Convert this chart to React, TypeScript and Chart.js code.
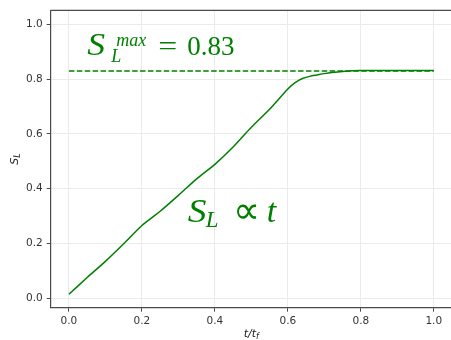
import React, { useEffect, useRef } from "react";
import { Chart, registerables } from "chart.js";

Chart.register(...registerables);

const T_VALUES = [0, 0.05, 0.1, 0.15, 0.2, 0.25, 0.3, 0.35, 0.4, 0.45, 0.5, 0.55, 0.6, 0.62, 0.64, 0.66, 0.68, 0.7, 0.72, 0.75, 0.8, 0.85, 0.9, 0.95, 1.0];
const SL_VALUES = [0.015, 0.076, 0.135, 0.199, 0.266, 0.318, 0.376, 0.436, 0.489, 0.552, 0.624, 0.69, 0.764, 0.787, 0.802, 0.81, 0.815, 0.82, 0.824, 0.828, 0.831, 0.831, 0.831, 0.831, 0.831];
const SL_MAX = 0.83;
const SL_MAX_T = [0, 1];
const X_TICKS = [0, 0.2, 0.4, 0.6, 0.8, 1.0];
const Y_TICKS = [0, 0.2, 0.4, 0.6, 0.8, 1.0];
const ANNOT_MAX_POS = [0.053, 0.887];
const ANNOT_LIN_POS = [0.326, 0.278];

const GREEN = "#008000";

const textPlugin = {
  id: "textPlugin",
  afterDraw(chart: any) {
    const ctx = chart.ctx;
    const { left, right, top, bottom } = chart.chartArea;
    const xs = chart.scales.x;
    const ys = chart.scales.y;
    ctx.save();
    // top & right spines
    ctx.strokeStyle = "#4a4a4a";
    ctx.lineWidth = 1.2;
    ctx.beginPath();
    ctx.moveTo(left, top);
    ctx.lineTo(right, top);
    ctx.lineTo(right, bottom);
    ctx.stroke();

    const serifI = (s: number) => `italic ${s}px "Liberation Serif"`;
    const serif = (s: number) => `${s}px "Liberation Serif"`;

    const wide = (text: string, px: number, py: number, sx: number) => {
      ctx.save();
      ctx.translate(px, py);
      ctx.scale(sx, 1);
      ctx.fillText(text, 0, 0);
      ctx.restore();
    };

    ctx.fillStyle = GREEN;
    ctx.textBaseline = "alphabetic";
    ctx.textAlign = "left";
    // S_L^max = 0.83
    let x = xs.getPixelForValue(ANNOT_MAX_POS[0]);
    let y = ys.getPixelForValue(ANNOT_MAX_POS[1]);
    ctx.font = serifI(31);
    wide("S", x - 1, y, 1.15);
    ctx.font = serifI(18);
    ctx.fillText("max", x + 28, y - 9);
    ctx.fillText("L", x + 23, y + 7);
    ctx.font = serif(27);
    wide("=", x + 70, y, 1.25);
    ctx.fillText("0.83", x + 99, y);

    // S_L ∝ t
    x = xs.getPixelForValue(ANNOT_LIN_POS[0]);
    y = ys.getPixelForValue(ANNOT_LIN_POS[1]);
    ctx.font = serifI(34);
    wide("S", x, y, 1.1);
    ctx.font = serifI(23);
    ctx.fillText("L", x + 18, y + 5);
    ctx.font = serif(38);
    ctx.fillText("\u221D", x + 45, y + 1);
    ctx.font = serifI(34);
    ctx.fillText("t", x + 79, y);

    // axis labels
    ctx.fillStyle = "#222";
    const cx = (left + right) / 2;
    ctx.font = `italic 11px "DejaVu Sans"`;
    const w1 = ctx.measureText("t/t").width;
    ctx.font = `italic 8px "DejaVu Sans"`;
    const w2 = ctx.measureText("f").width;
    const startX = cx - (w1 + w2) / 2;
    ctx.font = `italic 11px "DejaVu Sans"`;
    ctx.fillText("t/t", startX, 337);
    ctx.font = `italic 8px "DejaVu Sans"`;
    ctx.fillText("f", startX + w1, 339);

    // y label S_L
    ctx.translate(18, (top + bottom) / 2);
    ctx.rotate(-Math.PI / 2);
    ctx.font = `italic 11px "DejaVu Sans"`;
    const ws = ctx.measureText("S").width;
    ctx.font = `italic 8px "DejaVu Sans"`;
    const wl = ctx.measureText("L").width;
    const st = -(ws + wl) / 2;
    ctx.font = `italic 11px "DejaVu Sans"`;
    ctx.fillText("S", st, 0);
    ctx.font = `italic 8px "DejaVu Sans"`;
    ctx.fillText("L", st + ws, 2);
    ctx.restore();
  },
};

export default function App() {
  const ref = useRef<HTMLCanvasElement | null>(null);
  useEffect(() => {
    document.body.style.margin = "0";
    const canvas = ref.current!;
    const chart = new Chart(canvas, {
      type: "line",
      data: {
        datasets: [
          {
            data: T_VALUES.map((t, i) => ({ x: t, y: SL_VALUES[i] })),
            borderColor: GREEN,
            borderWidth: 1.5,
            pointRadius: 0,
            tension: 0.25,
            fill: false,
          },
          {
            data: SL_MAX_T.map((t) => ({ x: t, y: SL_MAX })),
            borderColor: GREEN,
            borderWidth: 1.5,
            borderDash: [5.5, 2.4],
            pointRadius: 0,
            fill: false,
          },
        ],
      },
      options: {
        responsive: false,
        animation: false,
        events: [],
        layout: { padding: { top: 8, right: 1, left: 0, bottom: 0 } },
        plugins: { legend: { display: false }, tooltip: { enabled: false } },
        scales: {
          x: {
            type: "linear",
            min: -0.05,
            max: 1.05,
            afterBuildTicks: (s: any) => {
              s.ticks = X_TICKS.map((v) => ({ value: v }));
            },
            afterFit: (s: any) => {
              s.height = 32.3;
            },
            grid: { color: "#ebebeb", lineWidth: 1, tickColor: "#4a4a4a", tickLength: 4, drawTicks: true },
            border: { display: true, color: "#4a4a4a", width: 1.2 },
            ticks: {
              color: "#333",
              font: { family: "DejaVu Sans", size: 10.5 },
              padding: 3,
              maxRotation: 0,
              callback: (v: any) => Number(v).toFixed(1),
            },
          },
          y: {
            type: "linear",
            min: -0.034,
            max: 1.051,
            afterBuildTicks: (s: any) => {
              s.ticks = Y_TICKS.map((v) => ({ value: v }));
            },
            afterFit: (s: any) => {
              s.width = 50.7;
            },
            grid: { color: "#ebebeb", lineWidth: 1, tickColor: "#4a4a4a", tickLength: 4, drawTicks: true },
            border: { display: true, color: "#4a4a4a", width: 1.2 },
            ticks: {
              color: "#333",
              font: { family: "DejaVu Sans", size: 10.5 },
              padding: 4,
              callback: (v: any) => Number(v).toFixed(1),
            },
          },
        },
      },
      plugins: [textPlugin],
    });
    return () => chart.destroy();
  }, []);
  return (
    <div style={{ width: 451, height: 340, overflow: "hidden", background: "#fff" }}>
      <canvas ref={ref} width={453} height={340} />
    </div>
  );
}
